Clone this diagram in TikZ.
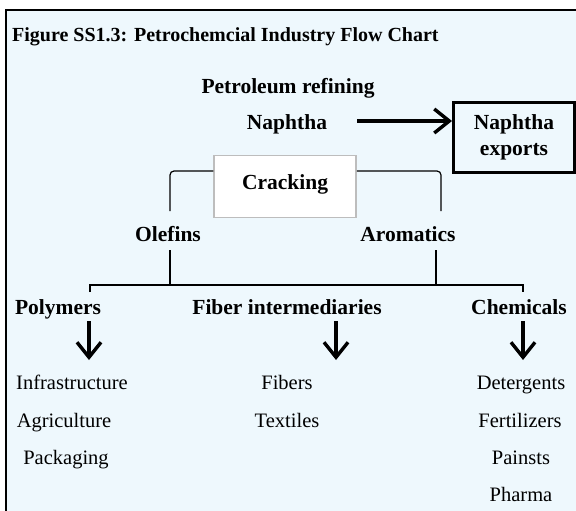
\documentclass[tikz,border=0pt]{standalone}
\usepackage{fontspec}
\setmainfont{Liberation Serif}
\usetikzlibrary{arrows, arrows.meta}
\usetikzlibrary{calc}

\definecolor{bgblue}{HTML}{EEF8FD}
\definecolor{crackgray}{HTML}{BDBDBD}

\tikzset{
  hd/.style={font=\fontsize{21.5}{25}\selectfont\bfseries, inner sep=0pt, anchor=base},
  item/.style={font=\fontsize{20.5}{24}\selectfont, inner sep=0pt, anchor=base},
  flow/.style={line width=3.4pt, -{Straight Barb[length=15pt, width=24pt, line width=3.4pt]}},
  link/.style={line width=1.2pt}
}

\begin{document}
\begin{tikzpicture}[x=1pt, y=-1pt]
    \useasboundingbox (0,0) rectangle (576,511);
    \fill[white] (0,0) rectangle (576,511);
    \fill[bgblue] (6,10) rectangle (576,511);
    \draw[line width=2pt] (6,511) -- (6,10) -- (576,10);

    \node[hd, font=\fontsize{20}{24}\selectfont\bfseries, anchor=base west] (title) at (12,42) {Figure SS1.3: Petrochemcial Industry Flow Chart};

    \node[hd] (refin) at (288,94) {Petroleum refining};
    \node[hd] (naph) at (287,129) {Naphtha};
    \node[draw, line width=3pt, minimum width=121pt, minimum height=70pt, inner sep=0pt,
          align=center, font=\fontsize{21.5}{26}\selectfont\bfseries] (exp) at (514,137.5) {Naphtha\\exports};
    \coordinate (na) at (357,121);
    \draw[flow] (na) -- (exp.west |- na);

    \node[draw=crackgray, line width=1.5pt, fill=white, minimum width=142pt, minimum height=62pt] (crack) at (285,186.5) {};
    \node[hd] (cracktxt) at (crack.center) [yshift=-3pt] {Cracking};

    \node[hd] (olef) at (168,241) {Olefins};
    \node[hd] (arom) at (408,241) {Aromatics};
    \coordinate (brk) at (0,171);
    \coordinate (olefup) at (170,211);
    \coordinate (aromup) at (441,211);
    \draw[link, rounded corners=4pt] (crack.west |- brk) -| (olefup);
    \draw[link, rounded corners=4pt] (crack.east |- brk) -| (aromup);

    % split to the three branches
    \coordinate (olefdn) at (170,250);
    \coordinate (aromdn) at (436,250);
    \coordinate (bar) at (0,285);
    \coordinate (pt) at (90,292);
    \coordinate (ct) at (523,292);
    \draw[link] (olefdn) -- (olefdn |- bar);
    \draw[link] (aromdn) -- (aromdn |- bar);
    \draw[link] (pt) -- (pt |- bar) -- (ct |- bar) -- (ct);

    \node[hd] (poly) at (58,314) {Polymers};
    \node[hd] (fiber) at (287,314) {Fiber intermediaries};
    \node[hd] (chem) at (519,314) {Chemicals};

    \coordinate (pa) at (89,321);
    \coordinate (fa) at (336,321);
    \coordinate (ca) at (523,321);
    \draw[flow] (pa) -- ++(0,39);
    \draw[flow] (fa) -- ++(0,39);
    \draw[flow] (ca) -- ++(0,39);

    \node[item] (infra) at (72,389) {Infrastructure};
    \node[item] (agri) at (64,427) {Agriculture};
    \node[item] (pack) at (66,464) {Packaging};

    \node[item] (fib) at (287,389) {Fibers};
    \node[item] (tex) at (287,427) {Textiles};

    \node[item] (det) at (521,389) {Detergents};
    \node[item] (fert) at (520,427) {Fertilizers};
    \node[item] (paint) at (521,464) {Painsts};
    \node[item] (phar) at (521,501) {Pharma};
\end{tikzpicture}
\end{document}
